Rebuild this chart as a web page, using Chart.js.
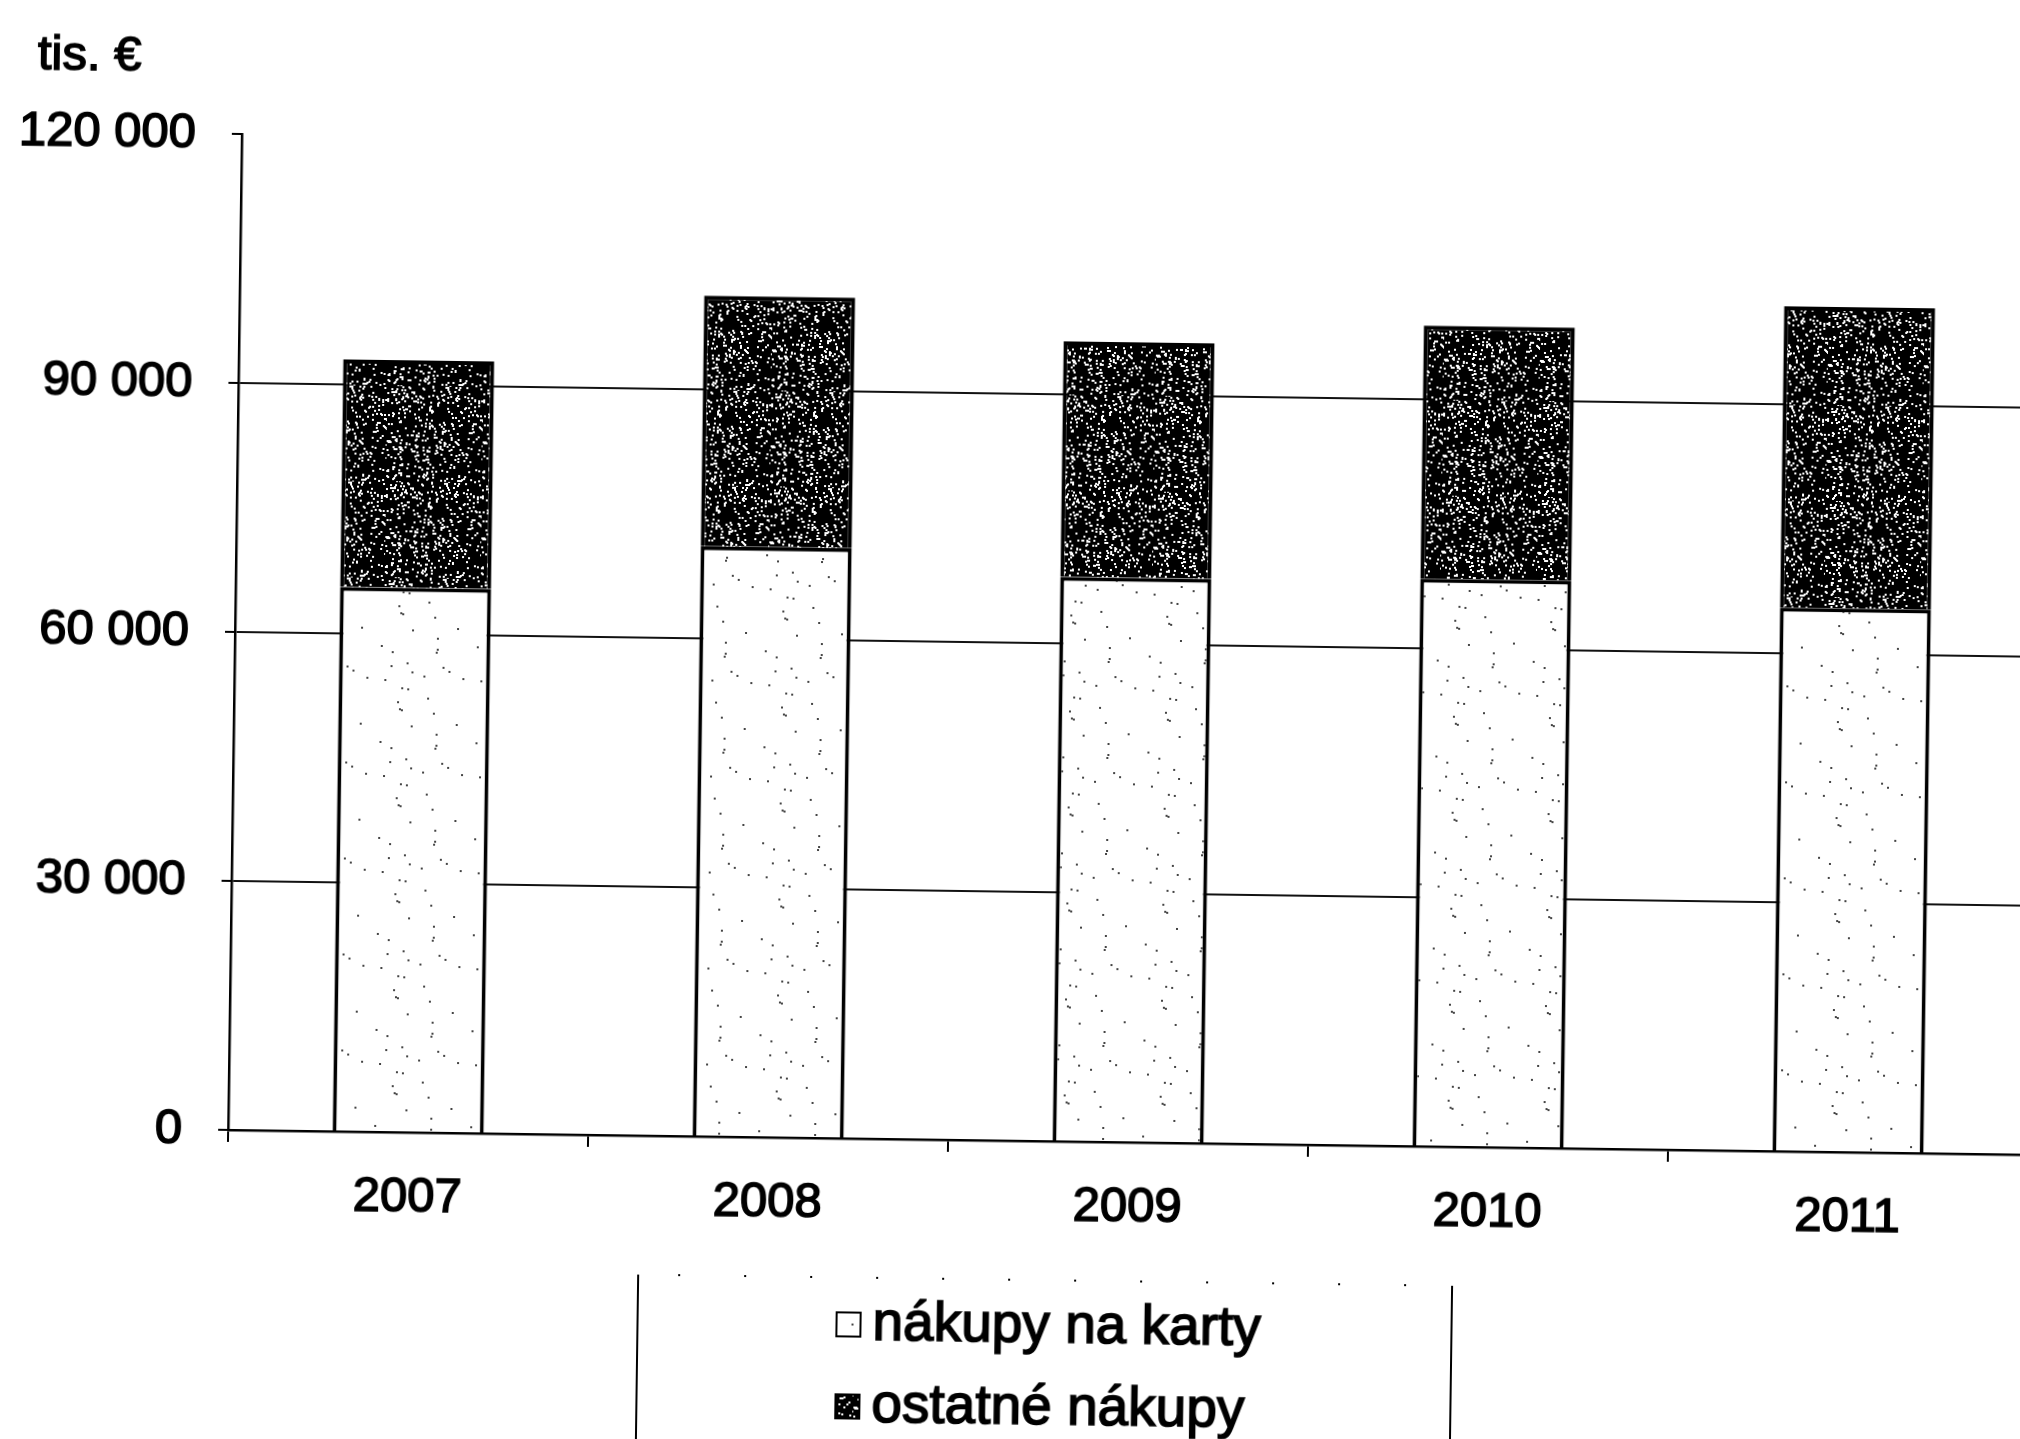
<!DOCTYPE html>
<html>
<head>
<meta charset="utf-8">
<script src="https://cdn.jsdelivr.net/npm/chart.js@4.4.1/dist/chart.umd.min.js"></script>
<style>
    html, body { margin: 0; padding: 0; background: #fff; overflow: hidden; }
    /* the scanned page is tilted slightly clockwise */
    #wrap {
        position: absolute; left: 0; top: 0;
        width: 2060px; height: 1439px;
        transform: rotate(0.79deg);
        transform-origin: 238px 632px;
    }
</style>
</head>
<body>
<div id="wrap">
    <canvas id="purchasesChart" width="2060" height="1439"></canvas>
</div>
<script>
// data
const categories = ["2007", "2008", "2009", "2010", "2011"];
const nakupyNaKarty = [65600, 71100, 68000, 68400, 65500];
const ostatneNakupy = [27400, 30200, 28400, 30500, 36300];
const seriesLabels = ["nákupy na karty", "ostatné nákupy"];
const yTicks = [0, 30000, 60000, 90000, 120000];
const yTickLabels = ["0", "30 000", "60 000", "90 000", "120 000"];
const unitLabel = "tis. €";

const FONT = "'Liberation Sans', Arial, sans-serif";
const INK = 1.6; // scanned text looks a bit heavier than regular

document.addEventListener("DOMContentLoaded", function () {
    const canvas = document.getElementById("purchasesChart");
    const ctx = canvas.getContext("2d");

    // speckled fill like the printed raster (fixed hash, just texture)
    function speckle(bg, dot, count, seed) {
        const p = document.createElement("canvas");
        p.width = 96; p.height = 96;
        const g = p.getContext("2d");
        g.fillStyle = bg;
        g.fillRect(0, 0, 96, 96);
        g.fillStyle = dot;
        let s = seed >>> 0;
        function next() {
            s = (s + 0x6D2B79F5) >>> 0;
            let t = s;
            t = Math.imul(t ^ (t >>> 15), t | 1);
            t ^= t + Math.imul(t ^ (t >>> 7), t | 61);
            return ((t ^ (t >>> 14)) >>> 0) / 4294967296;
        }
        for (let i = 0; i < count; i++) {
            const x = Math.floor(next() * 96);
            const y = Math.floor(next() * 96);
            g.fillRect(x, y, 2, 2);
        }
        return ctx.createPattern(p, "repeat");
    }
    const lightFill = speckle("#ffffff", "#444444", 22, 7);
    const darkFill = speckle("#000000", "#ffffff", 420, 11);

    function inkText(c, text, x, y) {
        c.lineWidth = INK;
        c.strokeStyle = "#000";
        c.strokeText(text, x, y);
        c.fillText(text, x, y);
    }

    // unit text top left + legend box at the bottom
    const extras = {
        id: "extras",
        afterDraw(chart) {
            const c = chart.ctx;
            c.save();
            c.fillStyle = "#000";
            c.textBaseline = "middle";
            c.font = "49px " + FONT;
            inkText(c, unitLabel, 30, 58);

            // legend frame
            const left = 647, right = 1461, top = 1269;
            c.strokeStyle = "#000";
            c.lineWidth = 2;
            c.beginPath();
            c.moveTo(left, top); c.lineTo(left, 1460);
            c.moveTo(right, top); c.lineTo(right, 1460);
            c.stroke();
            c.setLineDash([2, 64]);
            c.beginPath();
            c.moveTo(left + 40, top); c.lineTo(right, top);
            c.stroke();
            c.setLineDash([]);

            c.font = "55px " + FONT;
            chart.data.datasets.forEach((ds, i) => {
                const cy = top + 47 + i * 82;
                c.fillStyle = ds.backgroundColor;
                c.fillRect(846, cy - 12, 24, 24);
                c.lineWidth = 2;
                c.strokeStyle = "#000";
                c.strokeRect(846, cy - 12, 24, 24);
                c.fillStyle = "#000";
                inkText(c, ds.label, 882, cy);
            });
            c.restore();
        }
    };

    new Chart(ctx, {
        type: "bar",
        data: {
            labels: categories,
            datasets: [{
                label: seriesLabels[0],
                data: nakupyNaKarty,
                backgroundColor: lightFill,
                borderColor: "#000",
                borderWidth: 4,
                barPercentage: 0.42,
                categoryPercentage: 1
            }, {
                label: seriesLabels[1],
                data: ostatneNakupy,
                backgroundColor: darkFill,
                borderColor: "#000",
                borderWidth: 4,
                barPercentage: 0.42,
                categoryPercentage: 1
            }]
        },
        options: {
            responsive: false,
            animation: false,
            layout: { padding: { top: 134, right: 25, bottom: 209, left: 0 } },
            plugins: {
                legend: { display: false },
                tooltip: { enabled: false }
            },
            scales: {
                x: {
                    stacked: true,
                    afterFit(scale) { scale.height = 100; },
                    grid: {
                        offset: true,
                        drawOnChartArea: false,
                        drawTicks: true,
                        tickLength: 12,
                        tickColor: "#000",
                        lineWidth: 2
                    },
                    border: { display: true, color: "#000", width: 2.5 },
                    ticks: {
                        color: "#000",
                        padding: 24,
                        textStrokeColor: "#000",
                        textStrokeWidth: INK,
                        font: { family: FONT, size: 49 }
                    }
                },
                y: {
                    stacked: true,
                    min: 0,
                    max: 120000,
                    afterFit(scale) { scale.width = 235; },
                    afterBuildTicks(scale) {
                        scale.ticks = yTicks.map(v => ({ value: v }));
                    },
                    grid: {
                        color: (c) => c.tick && c.tick.value === 120000 ? "rgba(0,0,0,0)" : "#111",
                        lineWidth: 2,
                        tickLength: 10,
                        tickColor: "#000"
                    },
                    border: { display: true, color: "#000", width: 2.5 },
                    ticks: {
                        color: "#000",
                        padding: 36,
                        textStrokeColor: "#000",
                        textStrokeWidth: INK,
                        font: { family: FONT, size: 49 },
                        callback: function (value) {
                            const i = yTicks.indexOf(value);
                            return i >= 0 ? yTickLabels[i] : "";
                        }
                    }
                }
            }
        },
        plugins: [extras]
    });
});
</script>
</body>
</html>
